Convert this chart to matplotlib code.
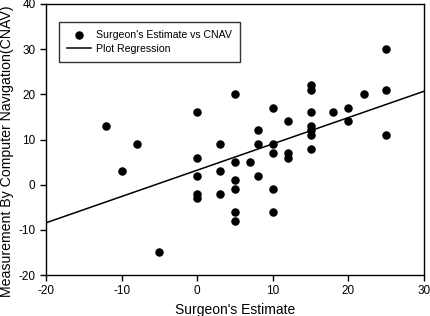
#!/usr/bin/env python3
"""Surgeon's estimate vs computer navigation scatter with regression"""

import matplotlib
matplotlib.use("Agg")
import matplotlib.pyplot as plt
import numpy as np

surgeon_est = [-12, -10, -8, -5,
               0, 0, 0, 0, 0,
               3, 3, 3,
               5, 5, 5, 5, 5, 5,
               7,
               8, 8, 8,
               10, 10, 10, 10, 10,
               12, 12, 12,
               15, 15, 15, 15, 15, 15, 15,
               18,
               20, 20,
               22,
               25, 25, 25]
cnav = [13, 3, 9, -15,
        16, 6, 2, -2, -3,
        9, 3, -2,
        20, 5, 1, -1, -6, -8,
        5,
        12, 9, 2,
        17, 9, 7, -1, -6,
        14, 7, 6,
        22, 21, 16, 13, 12, 11, 8,
        16,
        17, 14,
        20,
        30, 21, 11]

x_ticks = [-20, -10, 0, 10, 20, 30]
y_ticks = [-20, -10, 0, 10, 20, 30, 40]

plt.rcParams["font.family"] = ["Liberation Sans", "DejaVu Sans"]
plt.rcParams["axes.unicode_minus"] = False

fig = plt.figure(figsize=(4.3, 3.16), dpi=100)
ax = fig.add_axes([46 / 430, 1 - 275 / 316, 378 / 430, 271 / 316])

x = np.array(surgeon_est, dtype=float)
y = np.array(cnav, dtype=float)
slope, icept = np.polyfit(x, y, 1)

ax.scatter(x, y, s=26, color="black", zorder=3, label="Surgeon's Estimate vs CNAV")
xl = np.array([-20, 30])
ax.plot(xl, slope * xl + icept, color="black", lw=1.1, label="Plot Regression")

ax.set_xlim(-20, 30)
ax.set_ylim(-20, 40)
ax.set_xticks(x_ticks)
ax.set_yticks(y_ticks)
ax.tick_params(direction="out", length=4, width=1, labelsize=8.5)
for s in ax.spines.values():
    s.set_linewidth(1)

ax.set_xlabel("Surgeon's Estimate", fontsize=10)
ax.set_ylabel("Measurement By Computer Navigation(CNAV)", fontsize=10.2)
ax.yaxis.set_label_coords(-0.084, 0.455)

leg = ax.legend(loc="upper left", bbox_to_anchor=(13 / 378, 1 - 18 / 271),
                borderaxespad=0, fontsize=7.6, frameon=True, fancybox=False,
                edgecolor="black", borderpad=0.75, handlelength=2.3,
                handletextpad=0.5, labelspacing=0.4)
leg.get_frame().set_linewidth(1)

fig.savefig("out.png", dpi=100)
